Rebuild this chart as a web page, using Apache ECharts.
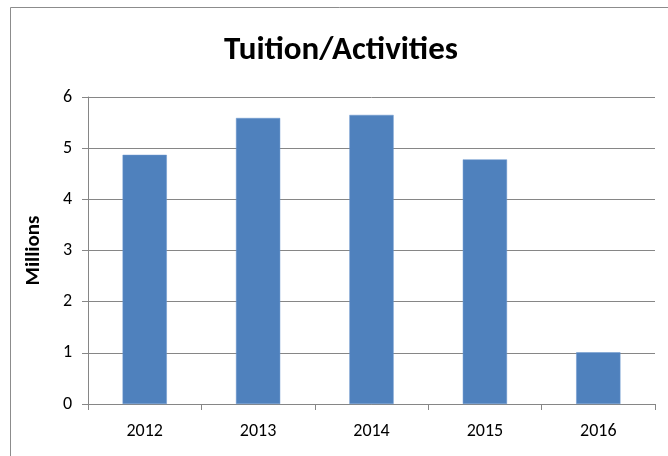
<!DOCTYPE html>
<html>
<head>
<meta charset="utf-8">
<script src="https://cdn.jsdelivr.net/npm/echarts@6/dist/echarts.min.js"></script>
<style>
  html, body { margin: 0; padding: 0; background: #fff; }
  #chart { width: 668px; height: 456px; }
</style>
</head>
<body>
<div id="chart"></div>
<script>
// data
const years = ['2012', '2013', '2014', '2015', '2016'];
const tuition = [4.87, 5.59, 5.65, 4.78, 1.01];
const yTicks = [0, 1, 2, 3, 4, 5, 6];

const font = 'Carlito, Lato, "Open Sans", sans-serif';
const chart = echarts.init(document.getElementById('chart'), null, { renderer: 'canvas' });

chart.setOption({
  backgroundColor: '#ffffff',
  animation: false,
  textStyle: { fontFamily: font },
  // outer chart border (only top/left visible in the crop)
  graphic: [{
    type: 'rect',
    left: 8, top: 5,
    shape: { width: 700, height: 500 },
    style: { fill: 'none', stroke: '#8c8c8c', lineWidth: 1 },
    silent: true
  }],
  title: {
    text: 'Tuition/Activities',
    left: 336, top: 29,
    textAlign: 'center',
    textStyle: { fontFamily: font, fontSize: 33, fontWeight: 'bold', color: '#000' }
  },
  grid: { left: 88, right: 13, top: 97, bottom: 52 },
  xAxis: {
    type: 'category',
    data: years,
    axisLine: { lineStyle: { color: '#868686', width: 1 } },
    axisTick: { show: true, length: 6, alignWithLabel: false, lineStyle: { color: '#868686' } },
    axisLabel: { color: '#000', fontSize: 18, margin: 18, fontFamily: font }
  },
  yAxis: {
    type: 'value',
    min: yTicks[0], max: yTicks[yTicks.length - 1], interval: 1,
    name: 'Millions',
    nameLocation: 'middle',
    nameGap: 44,
    nameRotate: 90,
    nameTextStyle: { color: '#000', fontSize: 21, fontWeight: 'bold', fontFamily: font },
    axisLine: { show: true, lineStyle: { color: '#868686', width: 1 } },
    axisTick: { show: true, length: 6, lineStyle: { color: '#868686' } },
    axisLabel: { color: '#000', fontSize: 18, margin: 16, fontFamily: font },
    splitLine: { show: true, lineStyle: { color: '#868686', width: 1 } }
  },
  series: [{
    type: 'bar',
    data: tuition,
    barWidth: '39%',
    itemStyle: { color: '#4f81bd', borderColor: '#6b97cf', borderWidth: 0.5 }
  }]
});
</script>
</body>
</html>
